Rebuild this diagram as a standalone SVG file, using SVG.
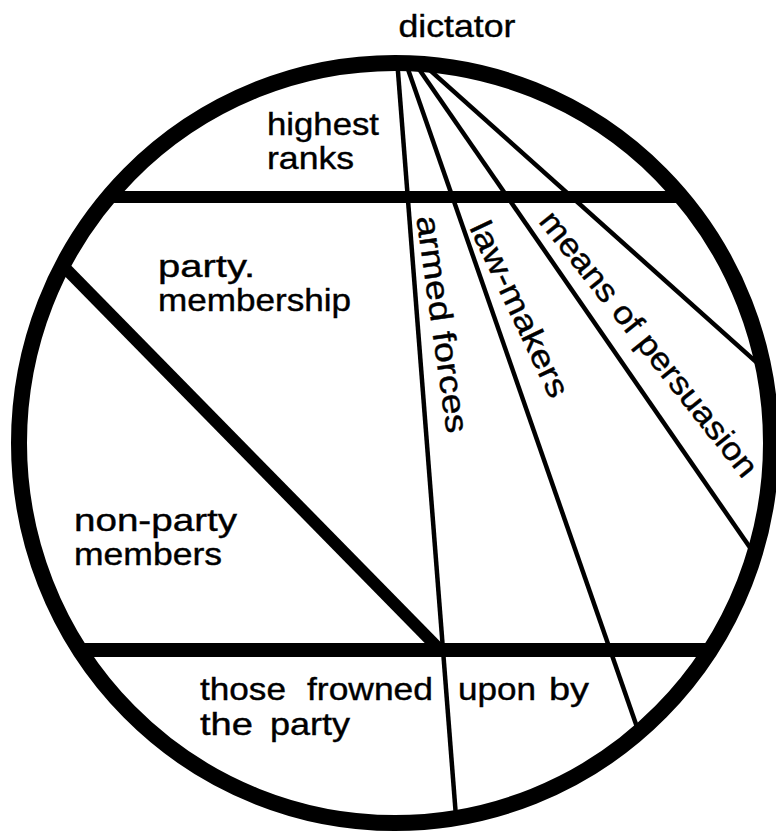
<svg xmlns="http://www.w3.org/2000/svg" width="776" height="835" viewBox="0 0 776 835">
<style>
  text { font-family: "Liberation Sans", Arial, Helvetica, sans-serif; font-size: 32px; fill: #000; stroke: #000; stroke-width: 0.4; }
  .thin { stroke: #000; stroke-width: 4.5; fill: none; }
  .thick { stroke: #000; fill: none; }
</style>
<defs>
  <clipPath id="inside">
    <ellipse cx="395" cy="443" rx="376" ry="380"/>
  </clipPath>
</defs>
<rect width="776" height="835" fill="#fff"/>
<g id="connectors" clip-path="url(#inside)">
  <line class="thin" x1="396.3" y1="50" x2="457.8" y2="840"/>
  <line class="thin" x1="401.3" y1="50" x2="676.3" y2="840"/>
  <line class="thin" x1="405.8" y1="50" x2="952.3" y2="840"/>
  <line class="thin" x1="407.4" y1="50" x2="1290.6" y2="840"/>
  <line class="thick" stroke-width="12" x1="0" y1="197" x2="776" y2="197"/>
  <line class="thick" stroke-width="14" x1="0" y1="650" x2="776" y2="650"/>
  <line class="thick" stroke-width="12" x1="20" y1="222" x2="440" y2="650"/>
</g>
<g id="circle">
  <ellipse cx="395" cy="443" rx="376" ry="380" fill="none" stroke="#000" stroke-width="16"/>
</g>
<g id="dictator"><text x="398.5" y="37" textLength="117" lengthAdjust="spacingAndGlyphs">dictator</text></g>
<g id="highest-ranks">
  <text x="267" y="135" textLength="112" lengthAdjust="spacingAndGlyphs">highest</text>
  <text x="267" y="169" textLength="87" lengthAdjust="spacingAndGlyphs">ranks</text>
</g>
<g id="party-membership">
  <text x="158" y="277" textLength="97" lengthAdjust="spacingAndGlyphs">party.</text>
  <text x="158" y="311" textLength="193" lengthAdjust="spacingAndGlyphs">membership</text>
</g>
<g id="non-party-members">
  <text x="74" y="531" textLength="163" lengthAdjust="spacingAndGlyphs">non-party</text>
  <text x="74" y="565" textLength="148" lengthAdjust="spacingAndGlyphs">members</text>
</g>
<g id="frowned-upon">
  <text x="200" y="700" textLength="86" lengthAdjust="spacingAndGlyphs">those</text>
  <text x="307" y="700" textLength="126" lengthAdjust="spacingAndGlyphs">frowned</text>
  <text x="200" y="735" textLength="53" lengthAdjust="spacingAndGlyphs">the</text>
  <text x="270" y="735" textLength="80" lengthAdjust="spacingAndGlyphs">party</text>
  <text x="458" y="700" textLength="78" lengthAdjust="spacingAndGlyphs">upon</text>
  <text x="549" y="700" textLength="40" lengthAdjust="spacingAndGlyphs">by</text>
</g>
<g id="armed-forces">
  <text transform="translate(440.5,324.5) rotate(82)" x="0" y="9" text-anchor="middle" textLength="219" lengthAdjust="spacingAndGlyphs">armed forces</text>
</g>
<g id="law-makers">
  <text transform="translate(518,310) rotate(64.7)" x="0" y="9" text-anchor="middle" textLength="191" lengthAdjust="spacingAndGlyphs">law-makers</text>
</g>
<g id="means-of-persuasion">
  <text transform="translate(647.5,345) rotate(51.5)" x="0" y="9" text-anchor="middle" textLength="330" lengthAdjust="spacingAndGlyphs">means of persuasion</text>
</g>
</svg>
